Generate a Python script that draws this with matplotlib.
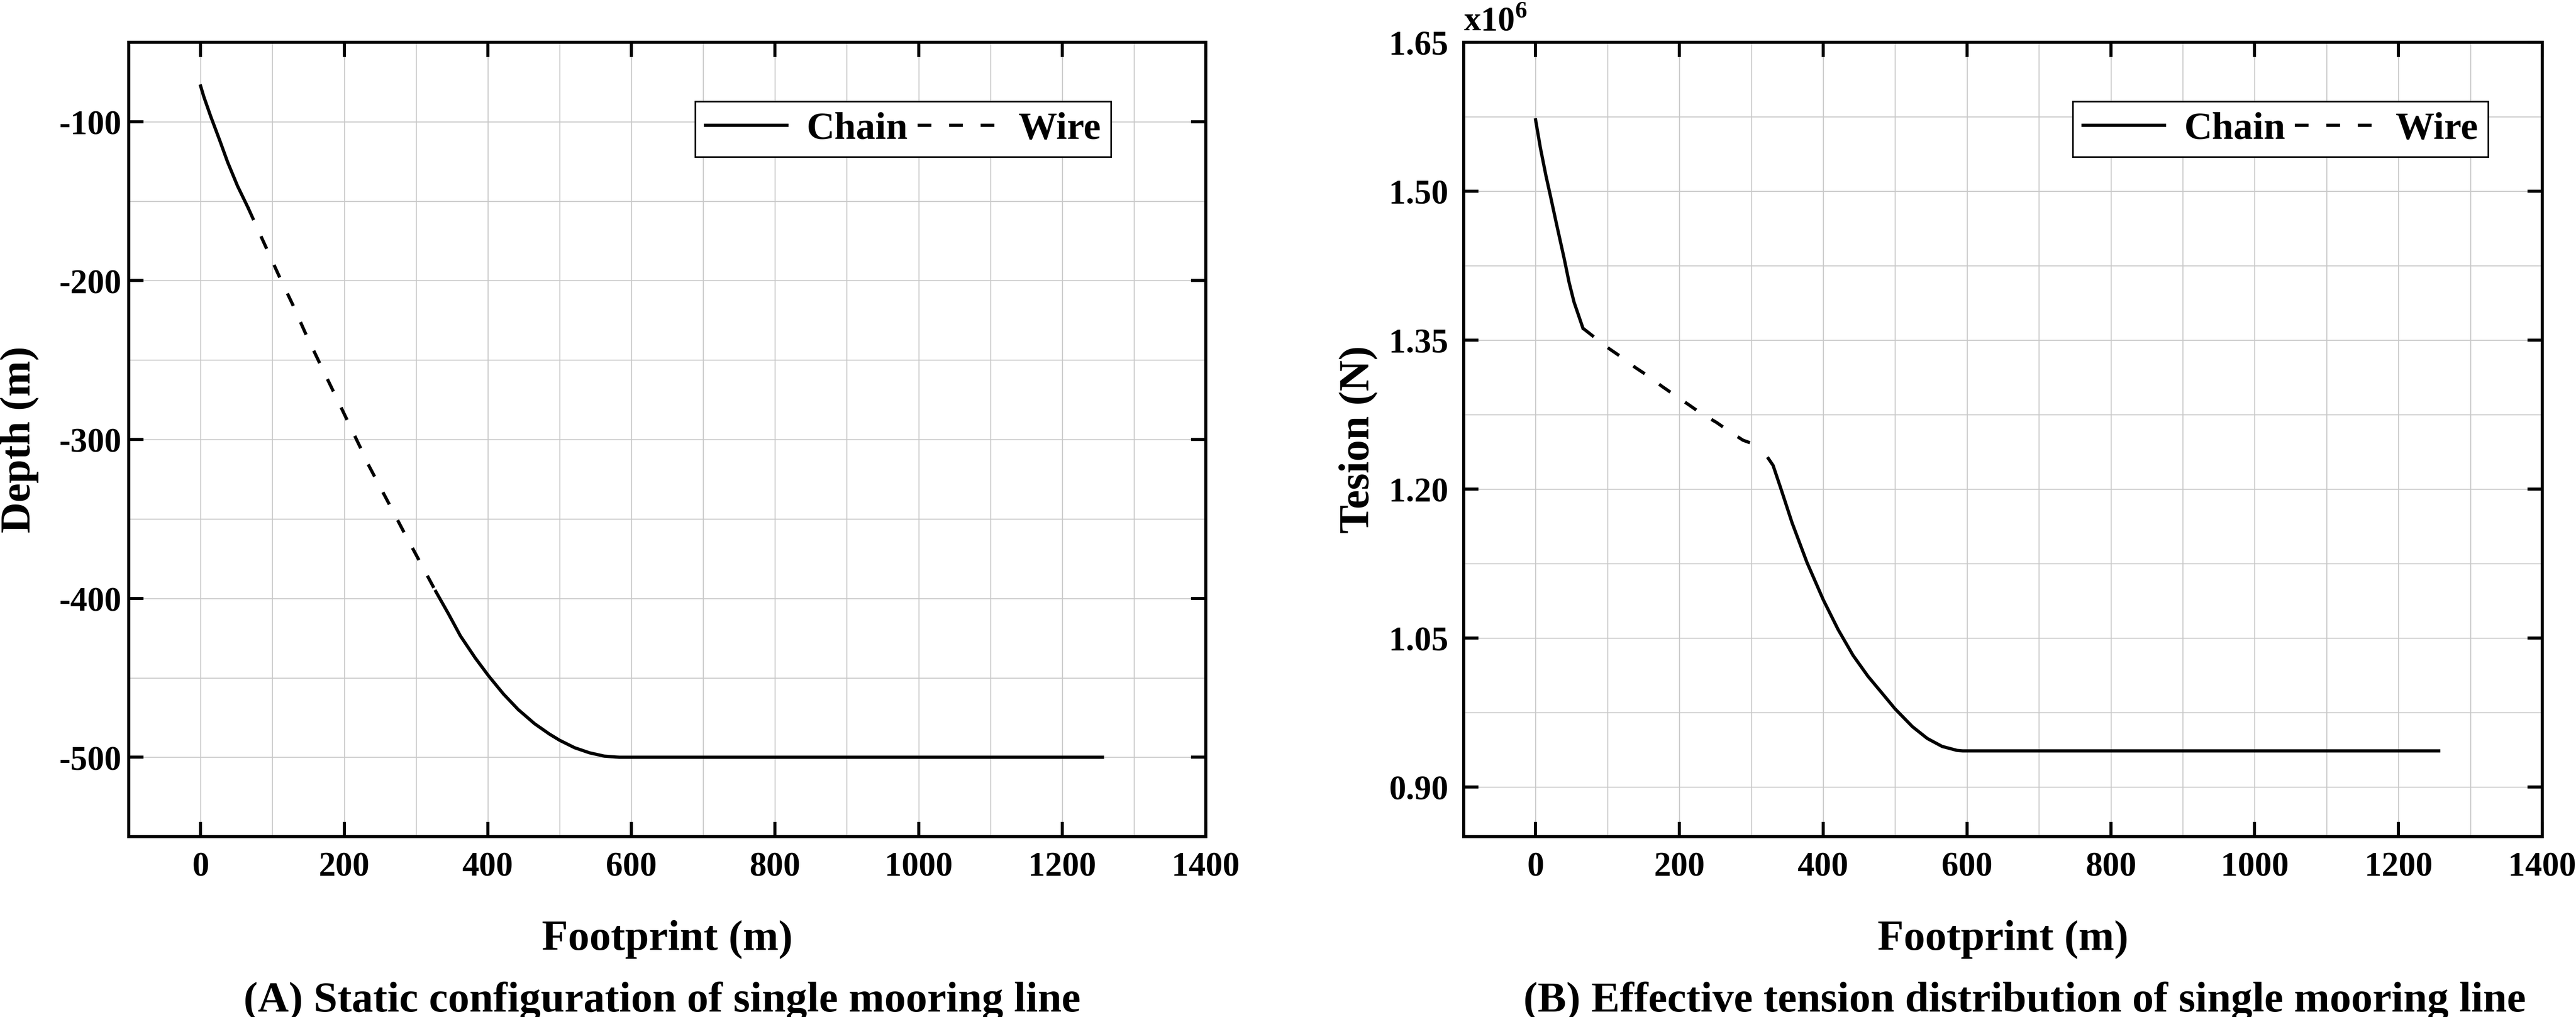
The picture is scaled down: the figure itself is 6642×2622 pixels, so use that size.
import numpy as np
import matplotlib
matplotlib.use("Agg")
import matplotlib.pyplot as plt
from matplotlib.ticker import FuncFormatter

plt.rcParams['font.family'] = ['Liberation Serif', 'DejaVu Serif']
plt.rcParams['font.weight'] = 'bold'
plt.rcParams['axes.labelweight'] = 'bold'
plt.rcParams['axes.unicode_minus'] = False
plt.rcParams['lines.scale_dashes'] = False

# (A) static configuration: footprint (m) vs depth (m)
chain_top_x = [0, 4.6, 14.3, 26.7, 37.7, 51.5, 66.0]
chain_top_depth = [-77.5, -84.4, -96.9, -111.8, -125.5, -140.5, -154.0]
wire_x = [66.0, 73.0, 82.6, 109.3, 128.6, 146.5, 165.8, 185.1, 223.4, 233.9,
          264.2, 284.9, 306.0, 327.5]
wire_depth = [-154.0, -161.0, -170.6, -197.1, -215.4, -233.6, -251.9, -269.9,
              -305.9, -316.1, -342.0, -359.8, -377.5, -395.6]
chain_bot_x = [327.5, 345.3, 361.8, 382.5, 401.1, 421.8, 442.4, 465.2, 485.8,
               500.0, 520.9, 541.6, 562.3, 583.0, 590.0, 1256.0]
chain_bot_depth = [-395.6, -409.8, -423.6, -437.5, -448.8, -460.2, -470.0,
                   -478.9, -485.4, -489.3, -494.0, -497.2, -499.3, -500.0,
                   -500.0, -500.0]

# (B) effective tension: footprint (m) vs tension (N)
t_chain_top_x = [0, 6.7, 14.4, 20.5, 28.8, 39.8, 46.6, 53.5, 65.9]
t_chain_top = [1.5719e6, 1.5436e6, 1.5157e6, 1.4958e6, 1.4680e6, 1.4321e6,
               1.4082e6, 1.3883e6, 1.3620e6]
t_wire_x = [65.9, 81.6, 102.2, 118.2, 138.7, 156.2, 176.0, 193.2, 213.8, 231.0,
            251.6, 268.8, 288.4, 299.8, 307.3]
t_wire = [1.3620e6, 1.3531e6, 1.3415e6, 1.3336e6, 1.3225e6, 1.3141e6,
          1.3034e6, 1.2948e6, 1.2846e6, 1.2759e6, 1.2672e6, 1.2585e6,
          1.2493e6, 1.2463e6, 1.2443e6]
t_chain_bot_x = [323.7, 330.3, 342.3, 356.7, 377.4, 400.2, 420.8, 441.5, 462.2,
                 482.8, 500.0, 524.1, 544.8, 565.4, 586.1, 594.0, 1256.0]
t_chain_bot = [1.2309e6, 1.2239e6, 1.1980e6, 1.1661e6, 1.1262e6, 1.0884e6,
               1.0585e6, 1.0326e6, 1.0116e6, 0.9937e6, 0.9787e6, 0.9608e6,
               0.9489e6, 0.9409e6, 0.9369e6, 0.9364e6, 0.9364e6]

x_ticks = np.arange(0, 1401, 200)
x_minor = np.arange(100, 1400, 200)
depth_ticks = [-100, -200, -300, -400, -500]
depth_minor = [-150, -250, -350, -450, -550]
tension_ticks = [0.90e6, 1.05e6, 1.20e6, 1.35e6, 1.50e6, 1.65e6]
tension_minor = [0.975e6, 1.125e6, 1.275e6, 1.425e6, 1.575e6]

lw = 2.0
dash = (0, (8.5, 11.0))

fig = plt.figure(figsize=(6642 / 300, 2622 / 300), dpi=300)
ax1 = fig.add_axes([0.0500, 0.1773, 0.4181, 0.7811])
ax2 = fig.add_axes([0.5682, 0.1773, 0.4187, 0.7811])


def style(ax, pad):
    for s in ax.spines.values():
        s.set_linewidth(1.9)
    ax.tick_params(which='major', direction='in', length=9.2, width=1.9,
                   top=True, right=True, labelsize=21)
    ax.tick_params(axis='y', pad=pad)
    ax.tick_params(axis='x', pad=9)
    ax.tick_params(which='minor', length=0)
    ax.grid(True, which='both', color='#c8c8c8', linewidth=0.6)
    ax.set_axisbelow(True)


def add_legend(ax, handles, right):
    leg = ax.legend(handles, ['Chain', 'Wire'], ncol=2, loc='upper right',
                    bbox_to_anchor=(right, 0.9254), borderaxespad=0,
                    fancybox=False, edgecolor='black', framealpha=1,
                    fontsize=24, borderpad=0.26, handlelength=2.1,
                    handletextpad=0.5, columnspacing=0.25)
    leg.get_frame().set_linewidth(1.0)


h1, = ax1.plot(chain_top_x, chain_top_depth, color='black', lw=lw)
ax1.plot(chain_bot_x, chain_bot_depth, color='black', lw=lw)
h2, = ax1.plot(wire_x, wire_depth, color='black', lw=lw, linestyle=dash)
ax1.set_xlim(-100, 1400)
ax1.set_ylim(-550, -50)
ax1.set_xticks(x_ticks)
ax1.set_xticks(x_minor, minor=True)
ax1.set_yticks(depth_ticks)
ax1.set_yticks(depth_minor, minor=True)
style(ax1, 4.5)
ax1.set_xlabel('Footprint (m)', fontsize=26.5, labelpad=23)
ax1.set_ylabel('Depth (m)', fontsize=26.5)
ax1.yaxis.set_label_coords(-0.0835, 0.5)
add_legend(ax1, [h1, h2], 0.912)

g1, = ax2.plot(t_chain_top_x, t_chain_top, color='black', lw=lw)
ax2.plot(t_chain_bot_x, t_chain_bot, color='black', lw=lw)
g2, = ax2.plot(t_wire_x, t_wire, color='black', lw=lw, linestyle=dash)
ax2.set_xlim(-100, 1400)
ax2.set_ylim(0.85e6, 1.65e6)
ax2.set_xticks(x_ticks)
ax2.set_xticks(x_minor, minor=True)
ax2.set_yticks(tension_ticks)
ax2.set_yticks(tension_minor, minor=True)
ax2.yaxis.set_major_formatter(FuncFormatter(lambda v, p: '%.2f' % (v / 1e6)))
style(ax2, 9.5)
ax2.set_xlabel('Footprint (m)', fontsize=26.5, labelpad=23)
ax2.set_ylabel('Tesion (N)', fontsize=26.5)
ax2.yaxis.set_label_coords(-0.080, 0.5)
ax2.text(0.0, 1.015, 'x10$^\\mathregular{6}$', transform=ax2.transAxes,
         fontsize=21, ha='left', va='baseline')
add_legend(ax2, [g1, g2], 0.950)

fig.text(0.257, 0.0053, '(A) Static configuration of single mooring line',
         ha='center', va='baseline', fontsize=26.5)
fig.text(0.786, 0.0053, '(B) Effective tension distribution of single mooring line',
         ha='center', va='baseline', fontsize=26.5)

fig.savefig('out.png', dpi=300)
